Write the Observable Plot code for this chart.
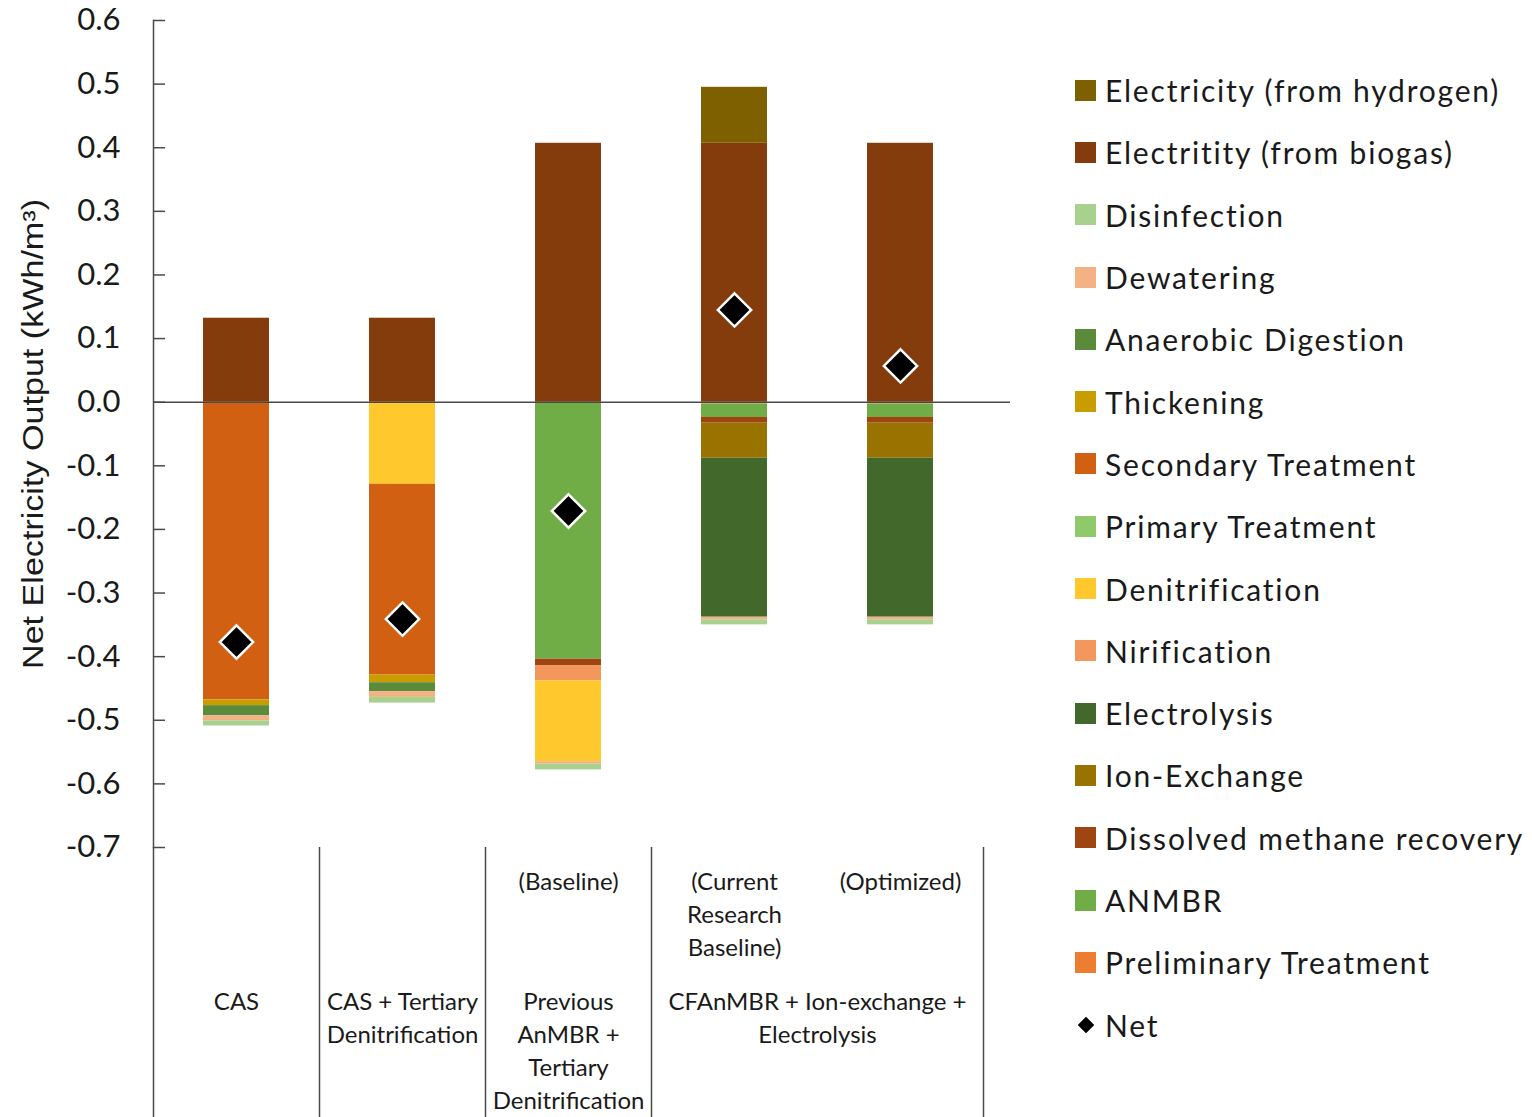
<!DOCTYPE html>
<html>
<head>
<meta charset="utf-8">
<script src="https://cdn.jsdelivr.net/npm/d3@7"></script>
<script src="https://cdn.jsdelivr.net/npm/@observablehq/plot@0.6"></script>
<style>
  body { margin: 0; background: #fff; }
  #wrap { position: relative; width: 1532px; height: 1117px; overflow: hidden; }
  #legend { position: absolute; left: 1075px; top: 59px; font-family: Lato, "Open Sans", sans-serif; font-size: 30px; letter-spacing: 1.8px; color: #1a1a1a; }
  #legend .row { height: 62.3px; display: flex; align-items: center; white-space: nowrap; }
  #legend .sw { width: 21px; height: 21px; margin-right: 9px; flex: none; }
  #legend .dia { width: 12px; height: 12px; margin: 0 13px 0 5px; background: #000; transform: rotate(45deg); outline: 1.5px solid #fff; flex: none; }
</style>
</head>
<body>
<div id="wrap">
  <div id="chart"></div>
  <div id="legend"></div>
</div>
<script>
// Treatment scenarios (one stacked column each)
const scenarios = ["CAS", "CAS+TD", "AnMBR", "CF-current", "CF-optimized"];
const subLabels = ["", "", "(Baseline)", "(Current\nResearch\nBaseline)", "(Optimized)"];
const groupLabels = ["CAS", "CAS + Tertiary\nDenitrification", "Previous\nAnMBR +\nTertiary\nDenitrification", "CFAnMBR + Ion-exchange +\nElectrolysis", ""];

// Process series, in stacking order (first = nearest the zero line)
const seriesNames = [
  "Preliminary Treatment", "ANMBR", "Dissolved methane recovery", "Ion-Exchange",
  "Electrolysis", "Nirification", "Denitrification", "Primary Treatment",
  "Secondary Treatment", "Thickening", "Anaerobic Digestion", "Dewatering",
  "Disinfection", "Electritity (from biogas)", "Electricity (from hydrogen)"
];
const seriesColors = [
  "#ed7d31", "#70ad47", "#9e4512", "#997300",
  "#43682b", "#f4975c", "#ffc92e", "#8fca6a",
  "#d26013", "#c99c00", "#5a8a3a", "#f4b183",
  "#a9d18e", "#843c0c", "#7f6000"
];

// Electricity use (negative) and production (positive), kWh/m3, per scenario
const preliminary     = [0, 0, 0, -0.003, -0.003];
const anmbr           = [0, 0, -0.404, -0.021, -0.021];
const dissolvedCH4    = [0, 0, -0.010, -0.009, -0.009];
const ionExchange     = [0, 0, 0, -0.055, -0.055];
const electrolysis    = [0, 0, 0, -0.250, -0.250];
const nitrification   = [0, 0, -0.024, 0, 0];
const denitrification = [0, -0.129, -0.127, 0, 0];
const primary         = [0, 0, 0, 0, 0];
const secondary       = [-0.468, -0.300, 0, 0, 0];
const thickening      = [-0.009, -0.012, 0, 0, 0];
const digestion       = [-0.016, -0.014, 0, 0, 0];
const dewatering      = [-0.008, -0.009, -0.004, -0.004, -0.004];
const disinfection    = [-0.008, -0.009, -0.009, -0.008, -0.008];
const biogasPower     = [0.132, 0.132, 0.407, 0.407, 0.407];
const hydrogenPower   = [0, 0, 0, 0.088, 0];

const netOutput = [-0.377, -0.341, -0.171, 0.145, 0.057];

const yTicks = [-0.7, -0.6, -0.5, -0.4, -0.3, -0.2, -0.1, 0, 0.1, 0.2, 0.3, 0.4, 0.5, 0.6];
const yLabel = "Net Electricity Output (kWh/m³)";

const seriesValues = [
  preliminary, anmbr, dissolvedCH4, ionExchange, electrolysis, nitrification,
  denitrification, primary, secondary, thickening, digestion, dewatering,
  disinfection, biogasPower, hydrogenPower
];

const rows = [];
seriesNames.forEach((name, i) => {
  scenarios.forEach((sc, j) => {
    const v = seriesValues[i][j];
    if (v !== 0) rows.push({scenario: sc, series: name, value: v});
  });
});
const netRows = scenarios.map((sc, j) => ({scenario: sc, net: netOutput[j]}));
const labelRows = scenarios.map((sc, j) => ({scenario: sc, sub: subLabels[j], group: groupLabels[j]}));

const axisColor = "#4a4a4a";
const halfStep = 83;

const chart = Plot.plot({
  width: 1532,
  height: 1117,
  marginLeft: 153,
  marginRight: 522,
  marginTop: 20,
  marginBottom: 270,
  style: {fontFamily: "Lato, 'Open Sans', sans-serif", color: "#1a1a1a", background: "#fff"},
  x: {type: "band", domain: scenarios, paddingInner: 0.6, paddingOuter: 0.3, insetRight: 27, axis: null},
  y: {domain: [-0.7, 0.6], axis: null},
  color: {type: "ordinal", domain: seriesNames, range: seriesColors},
  marks: [
    Plot.barY(rows, Plot.stackY({x: "scenario", y: "value", fill: "series", order: null})),
    Plot.ruleY([0], {stroke: axisColor, strokeWidth: 1.5}),
    // y axis: line, inward ticks, labels
    Plot.frame({anchor: "left", stroke: axisColor, strokeWidth: 1.5}),
    Plot.ruleY(yTicks, {stroke: axisColor, strokeWidth: 1.5, insetRight: 845}),
    Plot.axisY({ticks: yTicks, tickSize: 0, tickPadding: 33, fontSize: 31, tickFormat: d => d.toFixed(1), label: null}),
    Plot.text([yLabel], {
      frameAnchor: "left", textAnchor: "middle", rotate: -90, dx: -120, fontSize: 29,
      fontFamily: "'Liberation Sans', Arial, sans-serif"
    }),
    // category axis dividers below the plot
    Plot.ruleX(scenarios.slice(0, 4), {x: d => d, dx: -halfStep, stroke: axisColor, strokeWidth: 1.5, insetTop: 827, insetBottom: -270}),
    Plot.ruleX(scenarios.slice(4), {x: d => d, dx: halfStep, stroke: axisColor, strokeWidth: 1.5, insetTop: 827, insetBottom: -270}),
    Plot.text(labelRows, {x: "scenario", text: "sub", frameAnchor: "bottom", lineAnchor: "top", dy: 19, fontSize: 24, lineHeight: 1.38}),
    Plot.text(labelRows.filter(d => d.scenario !== "CF-current"), {x: "scenario", text: "group", frameAnchor: "bottom", lineAnchor: "top", dy: 139, fontSize: 24, lineHeight: 1.38}),
    Plot.text(labelRows.filter(d => d.scenario === "CF-current"), {x: "scenario", text: "group", frameAnchor: "bottom", lineAnchor: "top", dy: 139, dx: halfStep, fontSize: 24, lineHeight: 1.38}),
    // net output markers
    Plot.dot(netRows, {x: "scenario", y: "net", symbol: "diamond2", r: 15, fill: "#000", stroke: "#fff", strokeWidth: 2.5})
  ]
});
document.getElementById("chart").append(chart);

// Narrow the y-axis title so it reads like a condensed face
d3.select(chart).selectAll("text")
  .filter(function () { return this.textContent === yLabel; })
  .attr("textLength", 470)
  .attr("lengthAdjust", "spacingAndGlyphs");

// Legend, listed top to bottom in reverse stacking order
const legend = d3.select("#legend");
seriesNames.slice().reverse().forEach((name) => {
  const row = legend.append("div").attr("class", "row");
  row.append("div").attr("class", "sw").style("background", seriesColors[seriesNames.indexOf(name)]);
  row.append("span").text(name);
});
const netRow = legend.append("div").attr("class", "row");
netRow.append("div").attr("class", "dia");
netRow.append("span").text("Net");
</script>
</body>
</html>
